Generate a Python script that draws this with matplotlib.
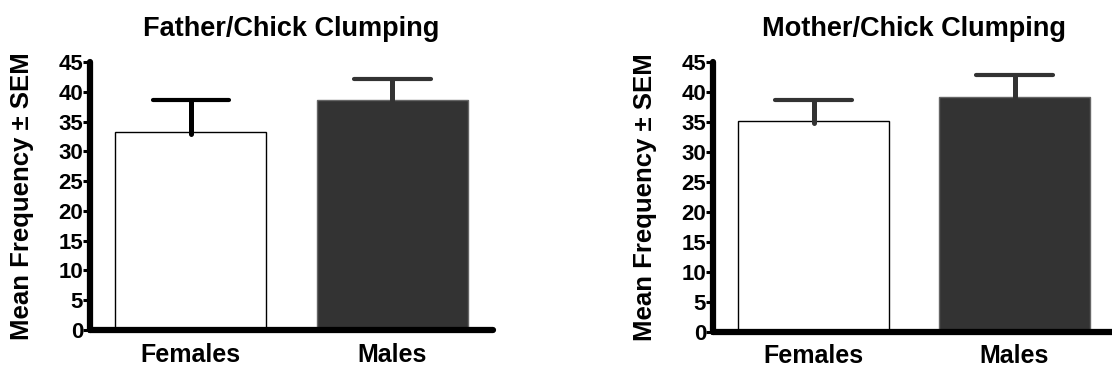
import numpy as np
import matplotlib
matplotlib.use("Agg")
import matplotlib.pyplot as plt

plt.rcParams['font.family'] = ['Liberation Sans', 'DejaVu Sans']
plt.rcParams['font.weight'] = 'bold'

groups = ['Females', 'Males']
father_mean = [33.2, 38.6]
father_sem = [5.4, 3.5]
mother_mean = [35.2, 39.2]
mother_sem = [3.5, 3.7]
yticks = [0, 5, 10, 15, 20, 25, 30, 35, 40, 45]

bar_colors = ['white', '#333333']
edge_colors = ['black', '#666666']


def draw_panel(ax, means, sems, title, err_colors):
    x = np.arange(len(groups))
    ax.bar(x, means, width=0.75, color=bar_colors, edgecolor=edge_colors,
           linewidth=1.0, zorder=2)

    # upper error bars only, with rounded ends
    tops = np.array(means) + np.array(sems)
    v = ax.vlines(x, np.array(means) - 0.3, tops, colors=err_colors,
                  linewidth=3.6, zorder=3)
    h = ax.hlines(tops, x - 0.19, x + 0.19, colors=err_colors,
                  linewidth=3.0, zorder=3)
    v.set_capstyle('round')
    h.set_capstyle('round')

    ax.set_xlim(-0.5, 1.5)
    ax.set_ylim(0, 45)
    ax.set_yticks(yticks)
    ax.set_xticks(x)
    ax.set_xticklabels(groups, fontsize=18, fontweight='bold')
    for lab in ax.get_yticklabels():
        lab.set_fontsize(16)
        lab.set_fontweight('bold')

    for side in ['top', 'right']:
        ax.spines[side].set_visible(False)
    for side in ['left', 'bottom']:
        ax.spines[side].set_linewidth(4.5)
        ax.spines[side].set_capstyle('round')
        ax.spines[side].set_zorder(4)

    ax.tick_params(axis='y', length=5, width=2.2, pad=0, direction='out')
    ax.tick_params(axis='x', length=0, pad=9)

    ax.set_ylabel('Mean Frequency \u00b1 SEM', fontsize=18.5, fontweight='bold')
    ax.yaxis.set_label_coords(-0.14, 0.5)
    ax.set_title(title, fontsize=19.5, fontweight='bold', pad=19)


fig = plt.figure(figsize=(11.12, 3.75), dpi=100)
ax1 = fig.add_axes([0.081, 0.12, 0.3624, 0.7147])
ax2 = fig.add_axes([0.6412, 0.1155, 0.3615, 0.718])

draw_panel(ax1, father_mean, father_sem, 'Father/Chick Clumping',
           ['black', '#333333'])
draw_panel(ax2, mother_mean, mother_sem, 'Mother/Chick Clumping',
           ['#333333', '#333333'])

fig.savefig('out.png', dpi=100)
